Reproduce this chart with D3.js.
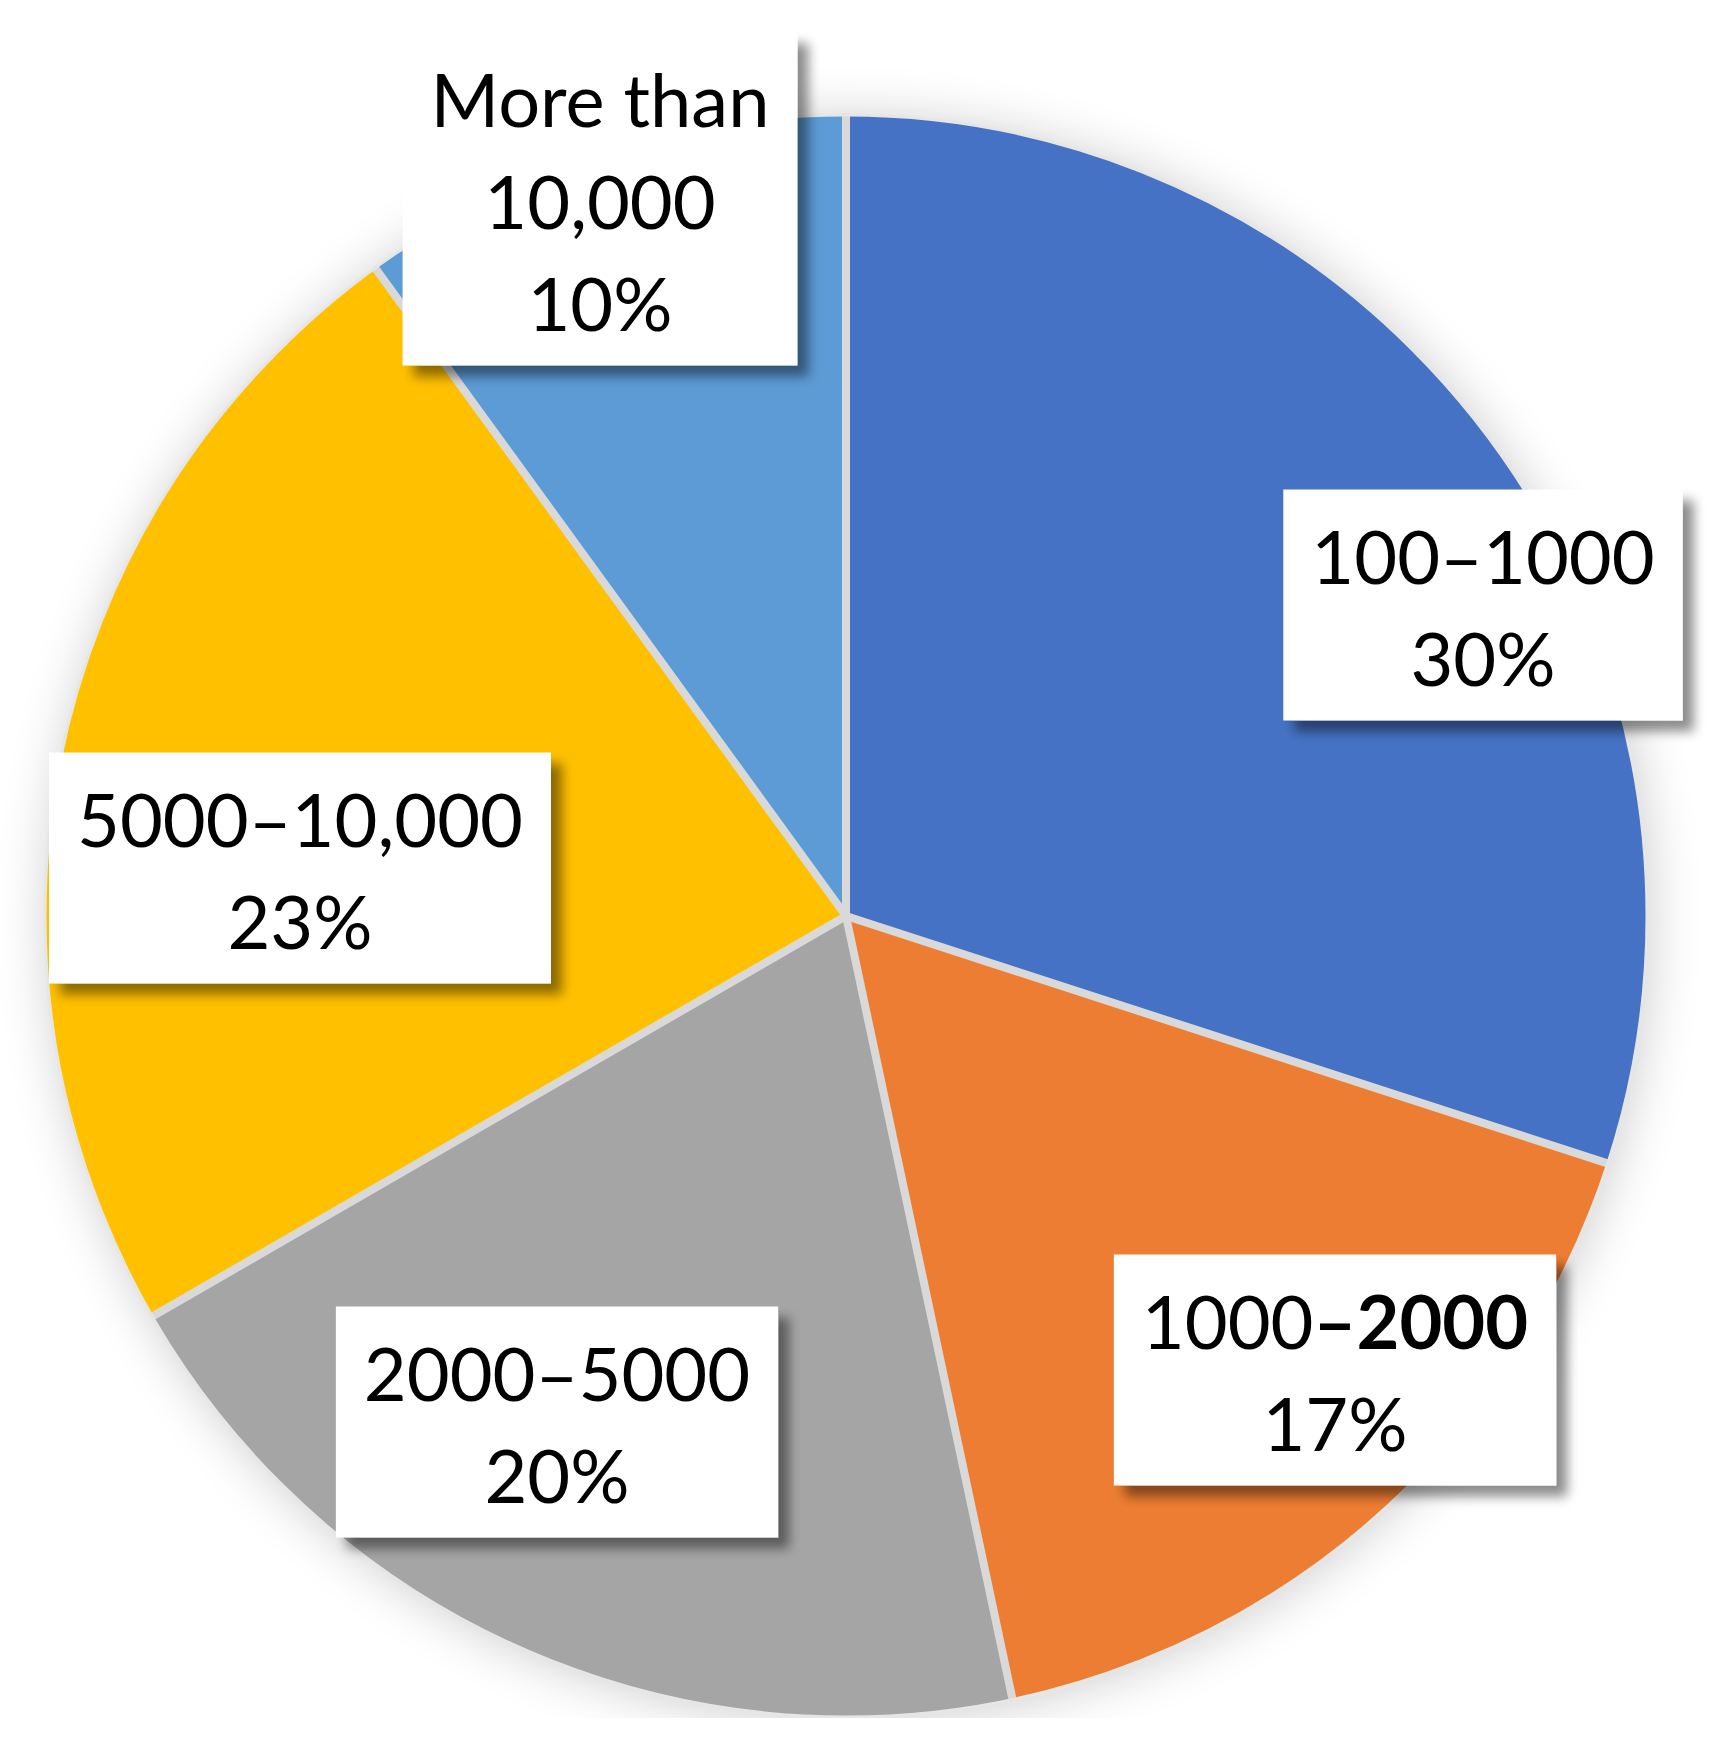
<!DOCTYPE html>
<html>
<head>
<meta charset="utf-8">
<script src="https://cdn.jsdelivr.net/npm/d3@7/dist/d3.min.js"></script>
<style>
  html, body { margin: 0; padding: 0; background: #ffffff; }
  svg { display: block; }
</style>
</head>
<body>
<svg id="chart" width="1728" height="1753"></svg>
<script>
// ---- data ----
const categories = ["100–1000", "1000–2000", "2000–5000", "5000–10,000", "More than 10,000"];
const values = [9, 5, 6, 7, 3];   // counts -> 30%, 17%, 20%, 23%, 10%
const colors = ["#4472C4", "#ED7D31", "#A5A5A5", "#FFC000", "#5B9BD5"];
// label text lines (category wrapped as in the picture)
const labelLines = [["100–1000"], ["1000–2000"], ["2000–5000"], ["5000–10,000"], ["More than", "10,000"]];

// ---- layout ----
const W = 1728, H = 1753;
const cx = 846, cy = 916, R = 801;
const fontSize = 74, lineStep = 102;
// label box centres relative to pie centre
const labelOffsets = [[637, -311], [489, 454], [-289, 506], [-546, -48], [-246, -717]];

const svg = d3.select("#chart");
const defs = svg.append("defs");

const glow = defs.append("filter").attr("id", "pieShadow")
  .attr("x", "-20%").attr("y", "-20%").attr("width", "140%").attr("height", "140%");
glow.append("feGaussianBlur").attr("in", "SourceAlpha").attr("stdDeviation", 26).attr("result", "b");
glow.append("feOffset").attr("in", "b").attr("dx", 3).attr("dy", 3).attr("result", "o");
glow.append("feComponentTransfer").attr("in", "o").attr("result", "s")
  .append("feFuncA").attr("type", "linear").attr("slope", 0.2);
const gm = glow.append("feMerge");
gm.append("feMergeNode").attr("in", "s");
gm.append("feMergeNode").attr("in", "SourceGraphic");

const boxSh = defs.append("filter").attr("id", "boxShadow")
  .attr("x", "-20%").attr("y", "-20%").attr("width", "140%").attr("height", "140%");
boxSh.append("feGaussianBlur").attr("in", "SourceAlpha").attr("stdDeviation", 6).attr("result", "b");
boxSh.append("feOffset").attr("in", "b").attr("dx", 11).attr("dy", 11).attr("result", "o");
boxSh.append("feComponentTransfer").attr("in", "o").attr("result", "s")
  .append("feFuncA").attr("type", "linear").attr("slope", 0.45);
const bm = boxSh.append("feMerge");
bm.append("feMergeNode").attr("in", "s");
bm.append("feMergeNode").attr("in", "SourceGraphic");

defs.append("clipPath").attr("id", "clipAll")
  .append("rect").attr("x", 0).attr("y", 0).attr("width", W).attr("height", 1718);

const root = svg.append("g").attr("clip-path", "url(#clipAll)");

const pie = d3.pie().sort(null).value(d => d.value);
const arcs = pie(categories.map((c, i) => ({ cat: c, value: values[i], i })));
const arc = d3.arc().innerRadius(0).outerRadius(R);

const pieG = root.append("g").attr("transform", `translate(${cx},${cy})`);
const slicesG = pieG.append("g").attr("filter", "url(#pieShadow)");
slicesG.selectAll("path.slice").data(arcs).join("path")
  .attr("class", "slice")
  .attr("d", arc)
  .attr("fill", d => colors[d.data.i]);
// radial separators
const rArc = d3.arc().innerRadius(0).outerRadius(R + 2);
slicesG.selectAll("line.sep").data(arcs).join("line")
  .attr("class", "sep")
  .attr("x1", 0).attr("y1", 0)
  .attr("x2", d => (R + 2) * Math.sin(d.startAngle))
  .attr("y2", d => -(R + 2) * Math.cos(d.startAngle))
  .attr("stroke", "#d9d9d9")
  .attr("stroke-width", 8);
// light outer rim
pieG.append("circle").attr("r", R).attr("fill", "none")
  .attr("stroke", "#e6e6e6").attr("stroke-width", 3);

// labels
const total = d3.sum(values);
const labG = root.append("g")
  .attr("font-family", "Lato, 'Open Sans', sans-serif")
  .attr("font-size", fontSize)
  .attr("fill", "#000");

arcs.forEach(d => {
  const i = d.data.i;
  const lines = labelLines[i].concat([Math.round(values[i] / total * 100) + "%"]);
  const [ox, oy] = labelOffsets[i];
  const g = labG.append("g").attr("transform", `translate(${cx + ox},${cy + oy})`);
  const rect = g.append("rect").attr("fill", "#ffffff").attr("filter", "url(#boxShadow)");
  const texts = g.append("g");
  let maxW = 0;
  const n = lines.length;
  const top = -(n * lineStep + 27) / 2;
  lines.forEach((ln, k) => {
    const t = texts.append("text")
      .attr("text-anchor", "middle")
      .attr("x", 0)
      .attr("y", top + 94 + k * lineStep);
    if (i === 1 && k === 0) {
      const parts = ln.split("–");
      t.append("tspan").text(parts[0]);
      t.append("tspan").attr("font-weight", "bold").text("–" + parts[1]);
    } else {
      t.text(ln);
    }
    maxW = Math.max(maxW, t.node().getComputedTextLength());
  });
  const bw = maxW + 56, bh = n * lineStep + 27;
  rect.attr("x", -bw / 2).attr("y", top).attr("width", bw).attr("height", bh);
});
</script>
</body>
</html>
